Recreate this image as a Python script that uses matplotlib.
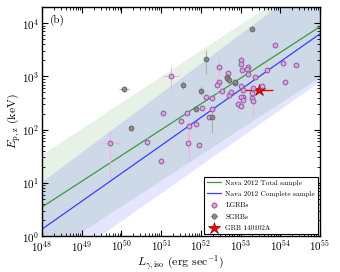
import numpy as np
import matplotlib
matplotlib.use("Agg")
import matplotlib.pyplot as plt
from matplotlib.ticker import LogLocator, NullFormatter

plt.rcParams['font.family'] = 'cmr10'
plt.rcParams['mathtext.fontset'] = 'cm'
plt.rcParams['axes.formatter.use_mathtext'] = True

# --- data (log10 units) ---
# Nava 2012 relations: log Ep = a + b * (log L - 48)
total_line = (0.545, 0.484)
total_hi = (1.52, 0.49)
total_lo = (-0.415, 0.484)
complete_line = (0.13, 0.524)
complete_hi = (1.01, 0.556)
complete_lo = (-0.77, 0.523)

lgrb_logL = [49.72, 50.65, 51.00, 51.06, 51.25, 51.65, 51.51, 51.69, 51.88, 51.68,
             51.96, 52.20, 52.27, 52.03, 52.12, 52.29, 52.47, 52.45, 52.41, 52.54,
             52.68, 52.65, 52.72, 52.75, 52.87, 53.01, 53.01, 53.03, 53.00, 53.06,
             53.07, 53.00, 52.94, 53.01, 53.07, 53.18, 53.17, 53.19, 53.36, 53.67,
             53.88, 54.06, 54.39, 54.12, 53.30, 53.31, 53.53, 53.30, 53.31]
lgrb_logE = [1.75, 1.77, 1.41, 2.31, 3.01, 2.32, 2.17, 2.06, 2.10, 1.75,
             1.71, 2.23, 2.38, 2.41, 2.62, 2.59, 3.18, 2.89, 2.83, 2.72,
             3.07, 2.99, 2.65, 2.71, 2.87, 3.30, 3.23, 3.11, 2.81, 2.74,
             2.62, 2.61, 2.49, 2.44, 2.56, 3.18, 3.13, 3.04, 2.99, 3.12,
             3.58, 3.25, 3.22, 2.89, 2.60, 2.78, 2.81, 2.69, 2.54]
lgrb_elo = [0.68, 0.08, 0.05, 0.05, 0.26, 0.05, 0.05, 0.65, 0.05, 0.18,
            0.05, 0.05, 0.05, 0.05, 0.05, 0.05, 0.20, 0.05, 0.15, 0.05,
            0.05, 0.05, 0.05, 0.05, 0.05, 0.15, 0.05, 0.05, 0.05, 0.05,
            0.05, 0.05, 0.15, 0.05, 0.05, 0.05, 0.05, 0.05, 0.05, 0.05,
            0.05, 0.05, 0.05, 0.05, 0.05, 0.05, 0.05, 0.05, 0.30]
lgrb_ehi = [0.22, 0.08, 0.05, 0.05, 0.17, 0.05, 0.05, 0.10, 0.05, 0.18,
            0.05, 0.05, 0.05, 0.05, 0.05, 0.05, 0.20, 0.05, 0.15, 0.05,
            0.05, 0.05, 0.05, 0.05, 0.05, 0.12, 0.05, 0.05, 0.05, 0.05,
            0.05, 0.05, 0.15, 0.05, 0.05, 0.05, 0.05, 0.05, 0.05, 0.05,
            0.05, 0.05, 0.05, 0.05, 0.05, 0.05, 0.05, 0.05, 0.05]
lgrb_lerr = [0.25, 0.0, 0.0, 0.0, 0.20, 0.0, 0.0, 0.0, 0.0, 0.0,
             0.0, 0.0, 0.0, 0.0, 0.0, 0.0, 0.0, 0.0, 0.0, 0.0,
             0.0, 0.0, 0.0, 0.0, 0.0, 0.0, 0.0, 0.0, 0.0, 0.0,
             0.0, 0.0, 0.0, 0.0, 0.0, 0.0, 0.0, 0.0, 0.0, 0.0,
             0.0, 0.0, 0.0, 0.0, 0.0, 0.0, 0.0, 0.0, 0.0]

sgrb_logL = [50.07, 50.25, 51.55, 52.13, 53.28, 52.01, 51.87, 52.66, 52.86, 52.27, 52.70]
sgrb_logE = [2.76, 2.03, 2.84, 3.33, 3.89, 2.73, 2.38, 2.96, 2.90, 2.23, 2.93]
sgrb_elo = [0.06, 0.05, 0.08, 0.28, 0.05, 0.08, 0.05, 0.05, 0.05, 0.30, 0.05]
sgrb_ehi = [0.06, 0.05, 0.07, 0.17, 0.05, 0.08, 0.05, 0.05, 0.05, 0.10, 0.05]
sgrb_lerr = [0.12, 0.0, 0.0, 0.0, 0.0, 0.0, 0.0, 0.0, 0.0, 0.0, 0.0]

grb_logL = 53.46
grb_logE = 2.74
grb_lerr = (0.36, 0.37)


def rel(p, x):
    return p[0] + p[1] * (x - 48)


def errs(logv, lo, hi):
    logv, lo, hi = np.array(logv), np.array(lo), np.array(hi)
    v = 10 ** logv
    return v, [v - 10 ** (logv - lo), 10 ** (logv + hi) - v]


fig = plt.figure(figsize=(3.4, 2.72), dpi=100)
ax = fig.add_axes([0.1235, 0.132, 0.8175, 0.842])

lgrid = np.linspace(48, 55, 200)
L = 10 ** lgrid
ax.fill_between(L, 10 ** rel(total_lo, lgrid), 10 ** rel(total_hi, lgrid),
                color='green', alpha=0.1, lw=0)
ax.fill_between(L, 10 ** rel(complete_lo, lgrid), 10 ** rel(complete_hi, lgrid),
                color='blue', alpha=0.1, lw=0)
h1, = ax.plot(L, 10 ** rel(total_line, lgrid), color='#3a9a3a', lw=0.9)
h2, = ax.plot(L, 10 ** rel(complete_line, lgrid), color='#3c3cff', lw=0.9)

x, xe = errs(lgrb_logL, lgrb_lerr, lgrb_lerr)
y, ye = errs(lgrb_logE, lgrb_elo, lgrb_ehi)
h3 = ax.errorbar(x, y, xerr=xe, yerr=ye, fmt='o', ms=3.5, mfc='#d9a6dc', mec='#8a4c9a',
                 mew=0.6, ecolor='#eab8e6', elinewidth=0.8, capsize=0)

x, xe = errs(sgrb_logL, sgrb_lerr, sgrb_lerr)
y, ye = errs(sgrb_logE, sgrb_elo, sgrb_ehi)
h4 = ax.errorbar(x, y, xerr=xe, yerr=ye, fmt='o', ms=3.5, mfc='#8a8a8a', mec='#555555',
                 mew=0.5, ecolor='#b0b0b0', elinewidth=0.8, capsize=0)

gx, gxe = errs([grb_logL], [grb_lerr[0]], [grb_lerr[1]])
ax.errorbar(gx, [10 ** grb_logE], xerr=gxe, fmt='none', ecolor='red', elinewidth=1)
h5, = ax.plot(gx, [10 ** grb_logE], '*', ms=9, mfc='red', mec='#800000', mew=0.5,
              ls='none')

ax.set_xscale('log')
ax.set_yscale('log')
ax.set_xlim(1e48, 1e55)
ax.set_ylim(1, 2e4)
ax.xaxis.set_major_locator(LogLocator(base=10, numticks=10))
ax.xaxis.set_minor_locator(LogLocator(base=10, subs=np.arange(2, 10), numticks=20))
ax.xaxis.set_minor_formatter(NullFormatter())
ax.yaxis.set_minor_formatter(NullFormatter())
ax.tick_params(which='both', direction='in', top=True, right=True, labelsize=8, pad=2)
ax.tick_params(which='major', length=4, width=0.8)
ax.tick_params(which='minor', length=2, width=0.6)
for s in ax.spines.values():
    s.set_linewidth(1.0)

ax.set_xlabel(r'$L_{\gamma,\rm iso}$ (erg sec$^{-1}$)', fontsize=8.5, labelpad=0)
ax.set_ylabel(r'$E_{\rm p,z}$ (keV)', fontsize=8.5, labelpad=0)
ax.text(0.03, 0.93, '(b)', transform=ax.transAxes, fontsize=8)

leg = ax.legend([h1, h2, h3, h4, h5],
                ['Nava 2012 Total sample', 'Nava 2012 Complete sample',
                 'LGRBs', 'SGRBs', 'GRB 140102A'],
                loc='lower right', fontsize=5.2, frameon=True, fancybox=False,
                edgecolor='black', framealpha=1, borderpad=0.35, labelspacing=0.75,
                handlelength=2.0, handletextpad=0.6, borderaxespad=0.3)
leg.get_frame().set_linewidth(0.8)

fig.savefig('out.png', dpi=100)
